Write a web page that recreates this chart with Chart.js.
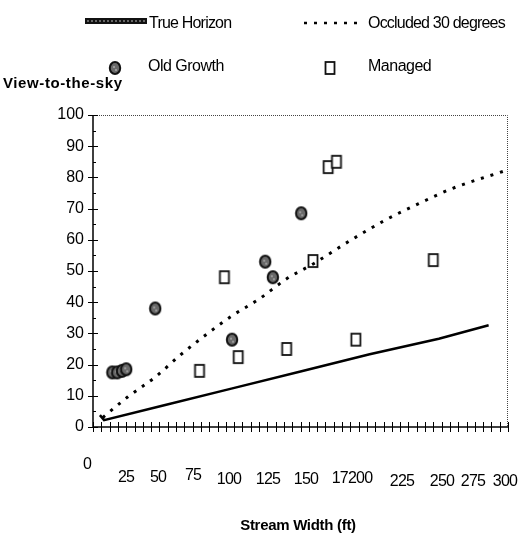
<!DOCTYPE html>
<html>
<head>
<meta charset="utf-8">
<script src="https://cdn.jsdelivr.net/npm/chart.js@4"></script>
<style>
  body { margin: 0; background: #fff; }
  #wrap { width: 529px; height: 535px; }
</style>
</head>
<body>
<div id="wrap"><canvas id="viewChart" width="529" height="535"></canvas></div>
<script>
// values
var horizonX = [5, 8, 50, 100, 150, 200, 250, 286];
var horizonY = [3.8, 2.2, 6.8, 12.3, 17.8, 23.3, 28.3, 32.6];

var occludedX = [7, 25, 45, 63, 80, 100, 120, 140, 160, 185, 210, 235, 260, 297];
var occludedY = [3, 9.6, 16, 23, 29, 35.5, 41, 47.5, 52.5, 59.5, 66, 71.5, 76.5, 82];

var oldGrowthX = [14, 17.5, 21, 24, 45, 100.5, 124.5, 130, 150.5];
var oldGrowthY = [17.5, 17.5, 18, 18.5, 38, 28, 53, 48, 68.5];

var managedX = [77, 95, 105, 140, 159, 170, 176, 190, 246];
var managedY = [18, 48, 22.4, 25, 53.2, 83.3, 85, 28, 53.5];

// the odd hand-lettered axis labels under the chart
var xLabels = ['0', '25', '50', '75', '100', '125', '150', '17200', '225', '250', '275', '300'];
var xLabelLeft = [87, 126, 158, 193, 229, 268, 306, 352, 402, 442, 473, 505];
var xLabelTop = [463, 476, 476, 474, 478, 478, 478, 477, 480, 480, 480, 480];

function pairs(xs, ys) {
  return xs.map(function (x, i) { return { x: x, y: ys[i] }; });
}

// marker pictures
function makeDot() {
  var c = document.createElement('canvas');
  c.width = 14; c.height = 16;
  var g = c.getContext('2d');
  g.beginPath();
  g.ellipse(7, 8, 5.2, 6, 0, 0, Math.PI * 2);
  g.fillStyle = '#6a6a6a';
  g.fill();
  g.lineWidth = 2;
  g.strokeStyle = '#111';
  g.stroke();
  g.fillStyle = '#9a9a9a';
  g.fillRect(5, 6, 2, 2);
  g.fillRect(7, 9, 2, 2);
  return c;
}
function makeBox() {
  var c = document.createElement('canvas');
  c.width = 14; c.height = 16;
  var g = c.getContext('2d');
  g.fillStyle = '#fff';
  g.fillRect(2.5, 2, 9, 12);
  g.lineWidth = 1.8;
  g.strokeStyle = '#111';
  g.strokeRect(2.5, 2, 9, 12);
  return c;
}
var dotImg = makeDot();
var boxImg = makeBox();

var decorations = {
  id: 'decorations',
  afterDraw: function (chart) {
    var ctx = chart.ctx;
    var a = chart.chartArea;
    var xs = chart.scales.x, ys = chart.scales.y;
    ctx.save();

    // top and right border, faint and dotted like the scan
    ctx.strokeStyle = '#444';
    ctx.lineWidth = 1;
    ctx.setLineDash([1, 1]);
    ctx.beginPath();
    ctx.moveTo(a.left, a.top + 0.5);
    ctx.lineTo(a.right - 0.5, a.top + 0.5);
    ctx.lineTo(a.right - 0.5, a.bottom);
    ctx.stroke();
    ctx.setLineDash([]);

    // axes
    ctx.strokeStyle = '#000';
    ctx.lineWidth = 1.5;
    ctx.beginPath();
    ctx.moveTo(a.left, a.top);
    ctx.lineTo(a.left, a.bottom);
    ctx.lineTo(a.right, a.bottom);
    ctx.stroke();

    // y ticks: long at tens, short at fives
    ctx.lineWidth = 1;
    for (var v = 0; v <= 100; v += 5) {
      var py = Math.round(ys.getPixelForValue(v)) + 0.5;
      ctx.beginPath();
      if (v % 10 === 0) { ctx.moveTo(a.left - 5, py); ctx.lineTo(a.left + 5, py); }
      else { ctx.moveTo(a.left, py); ctx.lineTo(a.left + 3, py); }
      ctx.stroke();
    }
    // x ticks crossing the axis
    for (var u = 0; u <= 300; u += 6) {
      var px = Math.round(xs.getPixelForValue(u)) + 0.5;
      ctx.beginPath();
      ctx.moveTo(px, a.bottom - 5);
      ctx.lineTo(px, a.bottom + 5);
      ctx.stroke();
    }

    ctx.fillStyle = '#000';
    ctx.textBaseline = 'alphabetic';

    // x labels
    ctx.font = '16px "Liberation Sans", Arial, sans-serif';
    ctx.letterSpacing = '-0.8px';
    ctx.textAlign = 'center';
    xLabels.forEach(function (t, i) {
      ctx.fillText(t, xLabelLeft[i], xLabelTop[i] + 6);
    });

    // axis titles
    ctx.font = 'bold 15px "Liberation Sans", Arial, sans-serif';
    ctx.letterSpacing = '-0.3px';
    ctx.fillText('Stream Width (ft)', 298, 530);
    ctx.textAlign = 'left';
    ctx.letterSpacing = '0.6px';
    ctx.fillText('View-to-the-sky', 3, 88);

    // legend
    ctx.font = '16px "Liberation Sans", Arial, sans-serif';
    ctx.letterSpacing = '-0.8px';
    ctx.fillText('True Horizon', 149, 28);
    ctx.fillText('Occluded 30 degrees', 368, 28);
    ctx.letterSpacing = '-0.5px';
    ctx.fillText('Old Growth', 148, 71);
    ctx.fillText('Managed', 368, 71);

    // legend symbols
    ctx.fillStyle = '#111';
    ctx.fillRect(85, 18, 62, 6);
    ctx.strokeStyle = '#bbb';
    ctx.lineWidth = 1;
    ctx.setLineDash([2, 2]);
    ctx.beginPath();
    ctx.moveTo(87, 21);
    ctx.lineTo(145, 21);
    ctx.stroke();
    ctx.setLineDash([3, 7]);
    ctx.strokeStyle = '#000';
    ctx.lineWidth = 2.5;
    ctx.beginPath();
    ctx.moveTo(304, 23);
    ctx.lineTo(362, 23);
    ctx.stroke();
    ctx.setLineDash([]);
    ctx.drawImage(dotImg, 108, 60);
    ctx.drawImage(boxImg, 323, 60);

    ctx.restore();
  }
};

var ctx = document.getElementById('viewChart').getContext('2d');
var viewChart = new Chart(ctx, {
  type: 'scatter',
  data: {
    datasets: [{
      label: 'True Horizon',
      data: pairs(horizonX, horizonY),
      showLine: true,
      borderColor: '#000',
      borderWidth: 2.5,
      pointRadius: 0,
      tension: 0
    }, {
      label: 'Occluded 30 degrees',
      data: pairs(occludedX, occludedY),
      showLine: true,
      borderColor: '#000',
      borderWidth: 3,
      borderDash: [3, 7],
      pointRadius: 0,
      cubicInterpolationMode: 'monotone'
    }, {
      label: 'Old Growth',
      data: pairs(oldGrowthX, oldGrowthY),
      pointStyle: dotImg
    }, {
      label: 'Managed',
      data: pairs(managedX, managedY),
      pointStyle: boxImg
    }]
  },
  plugins: [decorations],
  options: {
    responsive: false,
    animation: false,
    layout: { padding: { left: 0, top: 115, right: 21, bottom: 108 } },
    plugins: {
      legend: { display: false },
      tooltip: { enabled: false }
    },
    scales: {
      x: {
        type: 'linear',
        display: false,
        min: 0,
        max: 300
      },
      y: {
        min: 0,
        max: 100,
        grid: { display: false, drawTicks: false },
        border: { display: false },
        ticks: {
          stepSize: 10,
          padding: 9,
          color: '#000',
          font: { family: '"Liberation Sans", Arial, sans-serif', size: 16 }
        },
        afterFit: function (scale) { scale.width = 93; }
      }
    }
  }
});
</script>
</body>
</html>
